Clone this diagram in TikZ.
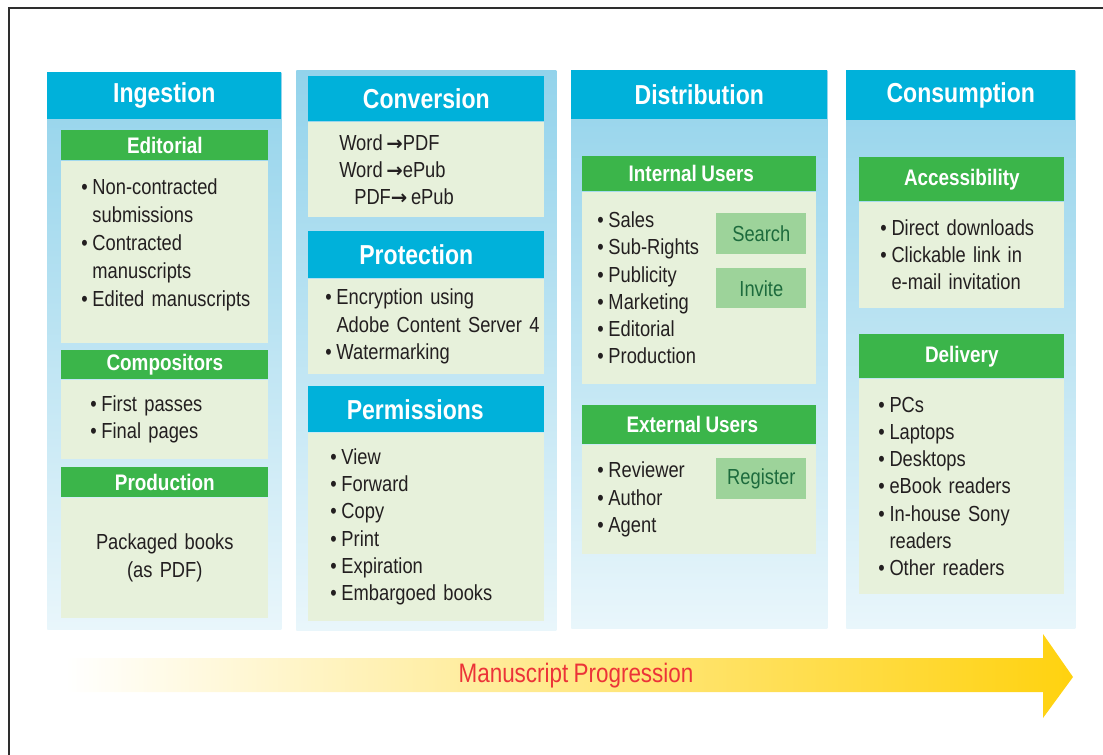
\documentclass[tikz,border=0pt]{standalone}
\usepackage{fontspec}
\setmainfont{Liberation Sans}[FakeStretch=0.84, WordSpace=0.85]
\newfontfamily\arrowfont{DejaVu Sans}
\usepackage{xcolor}
\usepackage{tikz}
\usetikzlibrary{positioning}
\definecolor{headblue}{HTML}{00B1DA}
\definecolor{paneltop}{HTML}{93D3EB}
\definecolor{panelbot}{HTML}{E9F6FB}
\definecolor{headgreen}{HTML}{3BB54A}
\definecolor{palegreen}{HTML}{E7F1DB}
\definecolor{btngreen}{HTML}{9DD39A}
\definecolor{btntext}{HTML}{1D6B3D}
\definecolor{ink}{HTML}{231F20}
\definecolor{progred}{HTML}{EC3338}
\definecolor{arrowgold}{HTML}{FFD20F}
\definecolor{framegray}{HTML}{2E2E2E}
\newcommand{\bitem}{\textbullet\hspace{0.12cm}}
\newcommand{\bcont}{\hphantom{\textbullet\hspace{0.12cm}}}
\newcommand{\convto}{{\arrowfont\fontsize{14}{14}\selectfont\bfseries →}}
\tikzstyle{panel} = [rectangle, anchor=north west, inner sep=0pt, top color=paneltop, bottom color=panelbot]
\tikzstyle{band} = [rectangle, anchor=north west, inner sep=0pt, fill=headblue, text=white, font=\bfseries\fontsize{19.5}{22}\selectfont]
\tikzstyle{subhead} = [rectangle, anchor=north west, inner sep=0pt, fill=headgreen, text=white, font=\bfseries\fontsize{16}{18}\selectfont]
\tikzstyle{content} = [rectangle, inner ysep=0pt, fill=palegreen, text=ink, align=left, font=\fontsize{15.5}{19.3}\selectfont]
\tikzstyle{action} = [rectangle, anchor=north west, inner sep=0pt, minimum width=2.25cm, minimum height=1.025cm, fill=btngreen, text=btntext, font=\fontsize{15.5}{18}\selectfont]

\begin{document}
\begin{tikzpicture}[x=0.025cm, y=-0.025cm]
    \useasboundingbox (0,0) rectangle (1103,755);
    \draw[framegray, line width=0.07cm] (9,755) -- (9,8) -- (1103,8);

    % Columns
    \node[panel, minimum width=5.85cm, minimum height=13.925cm] (ingpanel) at (47,72) {};
    \node[panel, minimum width=6.5cm, minimum height=14cm] (convpanel) at (296,70) {};
    \node[panel, minimum width=6.4cm, minimum height=13.95cm] (distpanel) at (571,70) {};
    \node[panel, minimum width=5.725cm, minimum height=13.95cm] (conspanel) at (846,70) {};

    % Ingestion
    \node[band, minimum width=5.85cm, minimum height=1.175cm] (ingestion) at (47,72) {Ingestion};
    \node[subhead, minimum width=5.175cm, minimum height=0.75cm] (editorial) at (61,130) {Editorial};
    \node[content, below=0pt of editorial, minimum height=4.55cm, inner xsep=0.5cm, text width=4.175cm,
        font=\fontsize{15.5}{19.9}\selectfont] (editorialbody)
        {\bitem Non-contracted\\ \bcont submissions\\ \bitem Contracted\\ \bcont manuscripts\\ \mbox{\bitem Edited manuscripts}\par\vspace{0.35cm}};
    \node[subhead, minimum width=5.175cm, minimum height=0.725cm] (compositors) at (61,350) {Compositors};
    \node[content, below=0pt of compositors, minimum height=1.975cm, inner xsep=0.725cm, text width=3.725cm] (compositorsbody)
        {\bitem First passes\\ \bitem Final pages};
    \node[subhead, minimum width=5.175cm, minimum height=0.75cm] (production) at (61,467) {Production};
    \node[content, below=0pt of production, minimum height=3cm, inner xsep=0pt, text width=5.175cm, align=center] (productionbody)
        {Packaged books\\(as PDF)};

    % Conversion
    \node[band, minimum width=5.9cm, minimum height=1.125cm] (conversion) at (308,76) {Conversion};
    \node[content, below=0pt of conversion, minimum height=2.375cm, inner xsep=0.775cm, text width=4.35cm] (conversionbody)
        {Word\,\convto PDF\\ Word\,\convto ePub\\ \hspace{0.375cm}PDF\convto\,ePub};
    \node[band, minimum width=5.9cm, minimum height=1.175cm] (protection) at (308,231) {Protection\hspace*{0.5cm}};
    \node[content, below=0pt of protection, minimum height=2.375cm, inner xsep=0.425cm, text width=5.05cm] (protectionbody)
        {\bitem Encryption using\\ \mbox{\bcont Adobe Content Server 4}\\ \bitem Watermarking};
    \node[band, minimum width=5.9cm, minimum height=1.15cm] (permissions) at (308,386) {Permissions\hspace*{0.55cm}};
    \node[content, below=0pt of permissions, minimum height=4.7cm, inner xsep=0.55cm, text width=4.8cm] (permissionsbody)
        {\bitem View\\ \bitem Forward\\ \bitem Copy\\ \bitem Print\\ \bitem Expiration\\ \bitem Embargoed books};

    % Distribution
    \node[band, minimum width=6.4cm, minimum height=1.225cm] (distribution) at (571,70) {Distribution};
    \node[subhead, minimum width=5.85cm, minimum height=0.875cm] (internal) at (582,156) {Internal Users\hspace*{0.4cm}};
    \node[content, below=0pt of internal, minimum height=4.8cm, inner xsep=0.375cm, text width=5.1cm] (internalbody)
        {\bitem Sales\\ \bitem Sub-Rights\\ \bitem Publicity\\ \bitem Marketing\\ \bitem Editorial\\ \bitem Production};
    \node[action] (search) at (716,213) {Search};
    \node[action, minimum height=1cm] (invite) at (716,268) {Invite};
    \node[subhead, minimum width=5.85cm, minimum height=0.975cm] (external) at (582,405) {External Users\hspace*{0.35cm}};
    \node[content, below=0pt of external, minimum height=2.725cm, inner xsep=0.375cm, text width=5.1cm] (externalbody)
        {\bitem Reviewer\\ \bitem Author\\ \bitem Agent};
    \node[action] (register) at (716,458) {Register};

    % Consumption
    \node[band, minimum width=5.725cm, minimum height=1.25cm] (consumption) at (846,70) {Consumption};
    \node[subhead, minimum width=5.125cm, minimum height=1.1cm] (accessibility) at (859,157) {Accessibility};
    \node[content, below=0pt of accessibility, minimum height=2.65cm, inner xsep=0.525cm, text width=4.075cm] (accessibilitybody)
        {\bitem Direct downloads\\ \bitem Clickable link in\\ \bcont e-mail invitation};
    \node[subhead, minimum width=5.125cm, minimum height=1.1cm] (delivery) at (859,334) {Delivery};
    \node[content, below=0pt of delivery, minimum height=5.375cm, inner xsep=0.475cm, text width=4.175cm] (deliverybody)
        {\bitem PCs\\ \bitem Laptops\\ \bitem Desktops\\ \bitem eBook readers\\ \bitem In-house Sony\\ \bcont readers\\ \bitem Other readers};

    % Progression arrow
    \shade[left color=white, right color=arrowgold] (65,658) -- (1043,658) -- (1043,634) -- (1073,677)
        -- (1043,718) -- (1043,692) -- (65,692) -- cycle;
    \node[text=progred, font=\fontsize{19}{21}\selectfont] (progress) at (576,676) {Manuscript Progression};

\end{tikzpicture}
\end{document}
